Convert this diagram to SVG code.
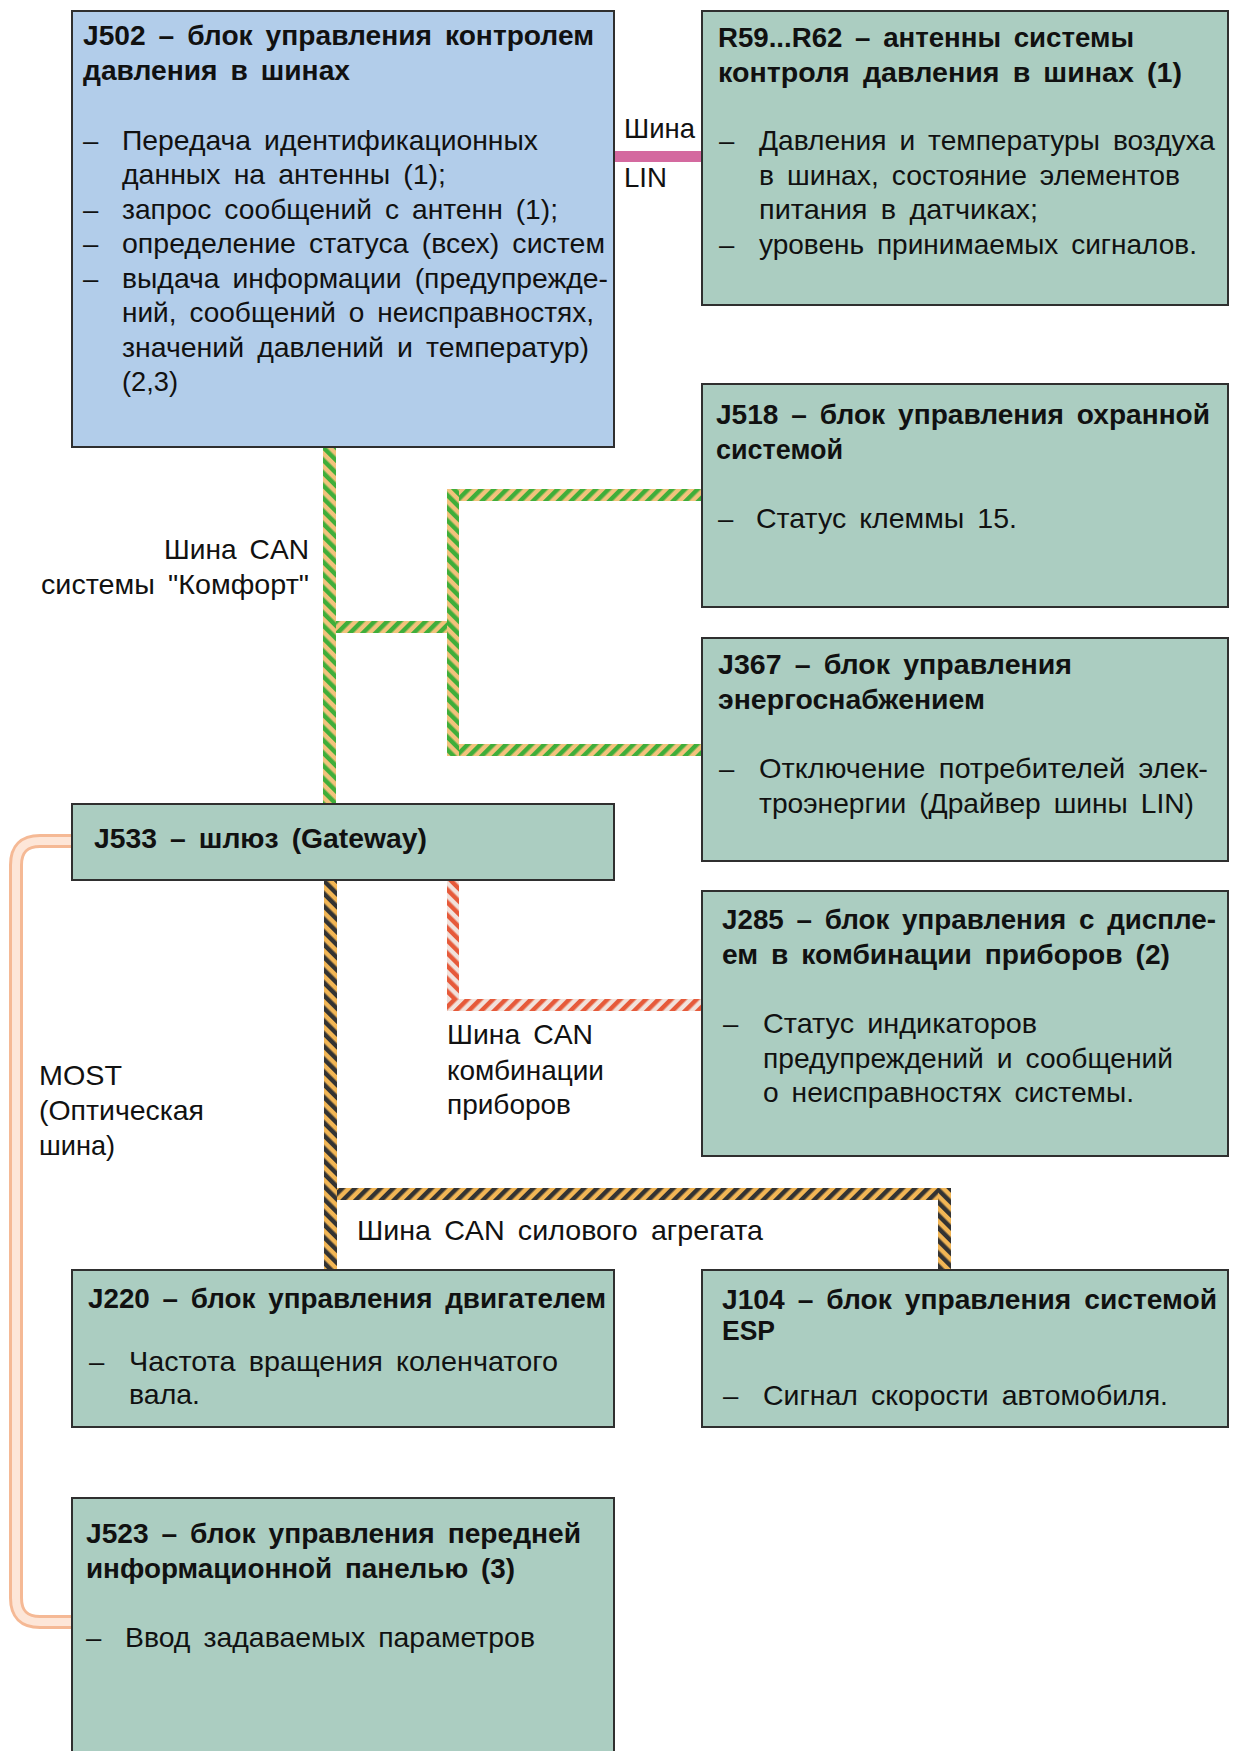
<svg xmlns="http://www.w3.org/2000/svg" width="1235" height="1751" viewBox="0 0 1235 1751">
<defs>
<style>
.box{fill:#abcdc1;stroke:#2f2f2f;stroke-width:2}
.blue{fill:#b2cdea}
text{font-family:"Liberation Sans",Arial,sans-serif;font-size:27.5px;fill:#111;word-spacing:5px}
.t{font-weight:bold}
</style>
<pattern id="gV" patternUnits="userSpaceOnUse" width="9" height="9" patternTransform="rotate(-45)"><rect width="9" height="9" fill="#f3c27c"/><rect width="4.5" height="9" fill="#3fae3a"/></pattern>
<pattern id="gH" patternUnits="userSpaceOnUse" width="9" height="9" patternTransform="rotate(45)"><rect width="9" height="9" fill="#f3c27c"/><rect width="4.5" height="9" fill="#3fae3a"/></pattern>
<pattern id="kV" patternUnits="userSpaceOnUse" width="9" height="9" patternTransform="rotate(-45)"><rect width="9" height="9" fill="#f2b655"/><rect width="4.5" height="9" fill="#333"/></pattern>
<pattern id="kH" patternUnits="userSpaceOnUse" width="9" height="9" patternTransform="rotate(45)"><rect width="9" height="9" fill="#f2b655"/><rect width="4.5" height="9" fill="#333"/></pattern>
<pattern id="rV" patternUnits="userSpaceOnUse" width="9" height="9" patternTransform="rotate(-45)"><rect width="9" height="9" fill="#f1e2dc"/><rect width="4.5" height="9" fill="#e65a3a"/></pattern>
<pattern id="rH" patternUnits="userSpaceOnUse" width="9" height="9" patternTransform="rotate(45)"><rect width="9" height="9" fill="#f1e2dc"/><rect width="4.5" height="9" fill="#e65a3a"/></pattern>
</defs>
<rect width="1235" height="1751" fill="#fff"/>

<g id="connectors">
  <!-- LIN -->
  <rect x="613" y="151" width="90" height="11" fill="#d4699f"/>
  <!-- MOST -->
  <path d="M73 841 H40 Q16 841 16 865 V1598 Q16 1622 40 1622 H73" fill="none" stroke="#f5b995" stroke-width="14"/>
  <path d="M73 841 H40 Q16 841 16 865 V1598 Q16 1622 40 1622 H73" fill="none" stroke="#fde6d8" stroke-width="8"/>
  <!-- CAN comfort -->
  <rect x="323" y="447" width="13" height="357" fill="url(#gV)"/>
  <rect x="336" y="621" width="111" height="12" fill="url(#gH)"/>
  <rect x="447" y="489" width="12" height="267" fill="url(#gV)"/>
  <rect x="459" y="489" width="243" height="12" fill="url(#gH)"/>
  <rect x="459" y="744" width="243" height="12" fill="url(#gH)"/>
  <!-- CAN instrument -->
  <rect x="447" y="880" width="12" height="119" fill="url(#rV)"/>
  <rect x="447" y="999" width="255" height="12" fill="url(#rH)"/>
  <!-- CAN powertrain -->
  <rect x="324" y="880" width="13" height="390" fill="url(#kV)"/>
  <rect x="337" y="1188" width="601" height="12" fill="url(#kH)"/>
  <rect x="938" y="1188" width="13" height="82" fill="url(#kV)"/>
</g>

<g id="labels">
  <text x="624" y="138" textLength="71" lengthAdjust="spacingAndGlyphs">Шина</text>
  <text x="624" y="187" textLength="43" lengthAdjust="spacingAndGlyphs">LIN</text>
  <text x="309" y="559" text-anchor="end" textLength="145" lengthAdjust="spacingAndGlyphs">Шина CAN</text>
  <text x="309" y="594" text-anchor="end" textLength="268" lengthAdjust="spacingAndGlyphs">системы "Комфорт"</text>
  <text x="447" y="1044" textLength="146" lengthAdjust="spacingAndGlyphs">Шина CAN</text>
  <text x="447" y="1080" textLength="157" lengthAdjust="spacingAndGlyphs">комбинации</text>
  <text x="447" y="1114" textLength="124" lengthAdjust="spacingAndGlyphs">приборов</text>
  <text x="39" y="1085" textLength="83" lengthAdjust="spacingAndGlyphs">MOST</text>
  <text x="39" y="1120" textLength="165" lengthAdjust="spacingAndGlyphs">(Оптическая</text>
  <text x="39" y="1155" textLength="76" lengthAdjust="spacingAndGlyphs">шина)</text>
  <text x="357" y="1240" textLength="406" lengthAdjust="spacingAndGlyphs">Шина CAN силового агрегата</text>
</g>

<g id="J502">
  <rect class="box blue" x="72" y="11" width="542" height="436"/>
  <text class="t" x="83" y="45" textLength="511" lengthAdjust="spacingAndGlyphs">J502 – блок управления контролем</text>
  <text class="t" x="83" y="80" textLength="267" lengthAdjust="spacingAndGlyphs">давления в шинах</text>
  <text x="83" y="150">–</text>
  <text x="122" y="150" textLength="416" lengthAdjust="spacingAndGlyphs">Передача идентификационных</text>
  <text x="122" y="184" textLength="324" lengthAdjust="spacingAndGlyphs">данных на антенны (1);</text>
  <text x="83" y="219">–</text>
  <text x="122" y="219" textLength="436" lengthAdjust="spacingAndGlyphs">запрос сообщений с антенн (1);</text>
  <text x="83" y="253">–</text>
  <text x="122" y="253" textLength="483" lengthAdjust="spacingAndGlyphs">определение статуса (всех) систем</text>
  <text x="83" y="288">–</text>
  <text x="122" y="288" textLength="486" lengthAdjust="spacingAndGlyphs">выдача информации (предупрежде-</text>
  <text x="122" y="322" textLength="472" lengthAdjust="spacingAndGlyphs">ний, сообщений о неисправностях,</text>
  <text x="122" y="357" textLength="467" lengthAdjust="spacingAndGlyphs">значений давлений и температур)</text>
  <text x="122" y="391" textLength="56" lengthAdjust="spacingAndGlyphs">(2,3)</text>
</g>

<g id="R59-R62">
  <rect class="box" x="702" y="11" width="526" height="294"/>
  <text class="t" x="718" y="47" textLength="416" lengthAdjust="spacingAndGlyphs">R59...R62 – антенны системы</text>
  <text class="t" x="718" y="82" textLength="464" lengthAdjust="spacingAndGlyphs">контроля давления в шинах (1)</text>
  <text x="719" y="150">–</text>
  <text x="759" y="150" textLength="456" lengthAdjust="spacingAndGlyphs">Давления и температуры воздуха</text>
  <text x="759" y="185" textLength="421" lengthAdjust="spacingAndGlyphs">в шинах, состояние элементов</text>
  <text x="759" y="219" textLength="279" lengthAdjust="spacingAndGlyphs">питания в датчиках;</text>
  <text x="719" y="254">–</text>
  <text x="759" y="254" textLength="438" lengthAdjust="spacingAndGlyphs">уровень принимаемых сигналов.</text>
</g>

<g id="J518">
  <rect class="box" x="702" y="384" width="526" height="223"/>
  <text class="t" x="716" y="424" textLength="494" lengthAdjust="spacingAndGlyphs">J518 – блок управления охранной</text>
  <text class="t" x="716" y="459" textLength="127" lengthAdjust="spacingAndGlyphs">системой</text>
  <text x="718" y="528">–</text>
  <text x="756" y="528" textLength="261" lengthAdjust="spacingAndGlyphs">Статус клеммы 15.</text>
</g>

<g id="J367">
  <rect class="box" x="702" y="638" width="526" height="223"/>
  <text class="t" x="718" y="674" textLength="354" lengthAdjust="spacingAndGlyphs">J367 – блок управления</text>
  <text class="t" x="718" y="709" textLength="267" lengthAdjust="spacingAndGlyphs">энергоснабжением</text>
  <text x="719" y="778">–</text>
  <text x="759" y="778" textLength="449" lengthAdjust="spacingAndGlyphs">Отключение потребителей элек-</text>
  <text x="759" y="813" textLength="435" lengthAdjust="spacingAndGlyphs">троэнергии (Драйвер шины LIN)</text>
</g>

<g id="J533">
  <rect class="box" x="72" y="804" width="542" height="76"/>
  <text class="t" x="94" y="848" textLength="333" lengthAdjust="spacingAndGlyphs">J533 – шлюз (Gateway)</text>
</g>

<g id="J285">
  <rect class="box" x="702" y="891" width="526" height="265"/>
  <text class="t" x="722" y="929" textLength="494" lengthAdjust="spacingAndGlyphs">J285 – блок управления с диспле-</text>
  <text class="t" x="722" y="964" textLength="448" lengthAdjust="spacingAndGlyphs">ем в комбинации приборов (2)</text>
  <text x="723" y="1033">–</text>
  <text x="763" y="1033" textLength="274" lengthAdjust="spacingAndGlyphs">Статус индикаторов</text>
  <text x="763" y="1068" textLength="410" lengthAdjust="spacingAndGlyphs">предупреждений и сообщений</text>
  <text x="763" y="1102" textLength="371" lengthAdjust="spacingAndGlyphs">о неисправностях системы.</text>
</g>

<g id="J220">
  <rect class="box" x="72" y="1270" width="542" height="157"/>
  <text class="t" x="88" y="1308" textLength="518" lengthAdjust="spacingAndGlyphs">J220 – блок управления двигателем</text>
  <text x="89" y="1371">–</text>
  <text x="129" y="1371" textLength="429" lengthAdjust="spacingAndGlyphs">Частота вращения коленчатого</text>
  <text x="129" y="1404" textLength="71" lengthAdjust="spacingAndGlyphs">вала.</text>
</g>

<g id="J104">
  <rect class="box" x="702" y="1270" width="526" height="157"/>
  <text class="t" x="722" y="1309" textLength="495" lengthAdjust="spacingAndGlyphs">J104 – блок управления системой</text>
  <text class="t" x="722" y="1340" textLength="53" lengthAdjust="spacingAndGlyphs">ESP</text>
  <text x="723" y="1405">–</text>
  <text x="763" y="1405" textLength="405" lengthAdjust="spacingAndGlyphs">Сигнал скорости автомобиля.</text>
</g>

<g id="J523">
  <rect class="box" x="72" y="1498" width="542" height="270"/>
  <text class="t" x="86" y="1543" textLength="495" lengthAdjust="spacingAndGlyphs">J523 – блок управления передней</text>
  <text class="t" x="86" y="1578" textLength="429" lengthAdjust="spacingAndGlyphs">информационной панелью (3)</text>
  <text x="86" y="1647">–</text>
  <text x="125" y="1647" textLength="410" lengthAdjust="spacingAndGlyphs">Ввод задаваемых параметров</text>
</g>
</svg>
